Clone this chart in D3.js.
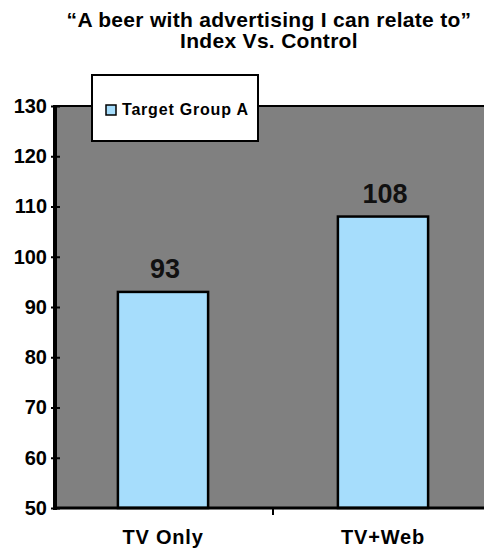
<!DOCTYPE html>
<html>
<head>
<meta charset="utf-8">
<script src="https://cdn.jsdelivr.net/npm/d3@7"></script>
<style>
  body { margin: 0; background: #fff; }
  svg { display: block; font-family: "Liberation Sans", Arial, sans-serif; }
</style>
</head>
<body>
<div id="chart"></div>
<script>
// data
const categories = ['TV Only', 'TV+Web'];
const values = [93, 108];
const seriesName = 'Target Group A';
const yTicks = [50, 60, 70, 80, 90, 100, 110, 120, 130];
const titleLines = ['\u201cA beer with advertising I can relate to\u201d', 'Index Vs. Control'];

const width = 484, height = 548;
const plotLeft = 55, plotTop = 106, plotBottom = 508;

const svg = d3.select('#chart').append('svg')
    .attr('width', width)
    .attr('height', height);

const x = d3.scaleBand()
    .domain(categories)
    .range([53, 493]);

const y = d3.scaleLinear()
    .domain([50, 130])
    .range([plotBottom, plotTop]);

// plot background
svg.append('rect')
    .attr('x', plotLeft)
    .attr('y', plotTop)
    .attr('width', width - plotLeft + 10)
    .attr('height', plotBottom - plotTop)
    .attr('fill', '#808080')
    .attr('stroke', '#000')
    .attr('stroke-width', 2);

// bars
const barW = x.bandwidth() * 0.41;
svg.selectAll('rect.bar')
  .data(values)
  .join('rect')
    .attr('class', 'bar')
    .attr('x', (d, i) => x(categories[i]) + x.bandwidth() / 2 - barW / 2)
    .attr('y', d => y(d))
    .attr('width', barW)
    .attr('height', d => plotBottom - y(d))
    .attr('fill', '#a6ddfc')
    .attr('stroke', '#000')
    .attr('stroke-width', 2.5);

// value labels
svg.selectAll('text.val')
  .data(values)
  .join('text')
    .attr('class', 'val')
    .attr('x', (d, i) => x(categories[i]) + x.bandwidth() / 2 + 2)
    .attr('y', d => y(d) - 14)
    .attr('text-anchor', 'middle')
    .style('font-size', '27px')
    .style('font-weight', 'bold')
    .attr('fill', '#111')
    .text(d => d);

// y axis
const yAxis = svg.append('g')
    .attr('transform', `translate(${plotLeft},0)`)
    .call(d3.axisLeft(y).tickValues(yTicks).tickSize(0).tickPadding(8));
yAxis.select('.domain').remove();
yAxis.selectAll('.tick line')
    .attr('x1', -4).attr('x2', 5)
    .attr('stroke', '#000').attr('stroke-width', 2);
yAxis.selectAll('text')
    .style('font-size', '20px')
    .style('font-weight', 'bold')
    .style('font-family', '"Liberation Sans", Arial, sans-serif')
    .attr('fill', '#000');
yAxis.append('line')
    .attr('x1', 0).attr('x2', 0)
    .attr('y1', plotTop - 1).attr('y2', plotBottom + 2)
    .attr('stroke', '#000').attr('stroke-width', 4);

// x axis
const xAxis = svg.append('g')
    .attr('transform', `translate(0,${plotBottom})`)
    .call(d3.axisBottom(x).tickSize(0).tickPadding(22));
xAxis.select('.domain').remove();
xAxis.append('line')
    .attr('x1', plotLeft - 2).attr('x2', width)
    .attr('stroke', '#000').attr('stroke-width', 3);
xAxis.selectAll('.sep')
  .data(categories.slice(1))
  .join('line')
    .attr('class', 'sep')
    .attr('x1', d => x(d)).attr('x2', d => x(d))
    .attr('y1', 0).attr('y2', 7)
    .attr('stroke', '#000').attr('stroke-width', 2);
xAxis.selectAll('.tick text')
    .style('font-size', '20px')
    .style('font-weight', 'bold')
    .style('letter-spacing', '0.8px')
    .style('font-family', '"Liberation Sans", Arial, sans-serif')
    .attr('fill', '#000')
    .attr('dy', '0.71em');

// legend
const legend = svg.append('g').attr('transform', 'translate(92,75)');
legend.append('rect')
    .attr('width', 166).attr('height', 66)
    .attr('fill', '#fff')
    .attr('stroke', '#000').attr('stroke-width', 2);
legend.append('rect')
    .attr('x', 14).attr('y', 30).attr('width', 10).attr('height', 10)
    .attr('fill', '#a6ddfc')
    .attr('stroke', '#000').attr('stroke-width', 1.5);
legend.append('text')
    .attr('x', 30).attr('y', 40)
    .style('font-size', '16px')
    .style('font-weight', 'bold')
    .style('letter-spacing', '0.8px')
    .text(seriesName);

// title
svg.append('g').selectAll('text')
  .data(titleLines)
  .join('text')
    .attr('x', 269)
    .attr('y', (d, i) => 27 + i * 21)
    .attr('text-anchor', 'middle')
    .style('font-size', '21px')
    .style('font-weight', 'bold')
    .style('letter-spacing', '0.3px')
    .attr('fill', '#000')
    .text(d => d);
</script>
</body>
</html>
